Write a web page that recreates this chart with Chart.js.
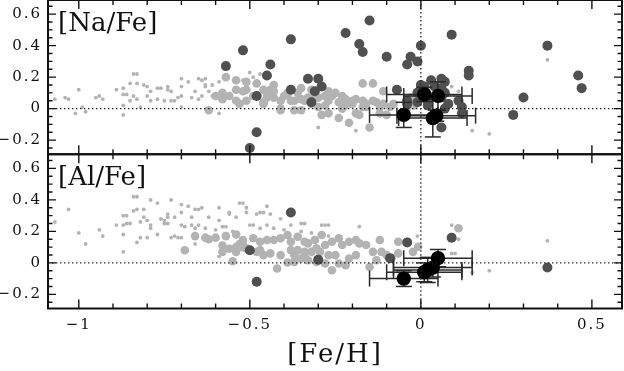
<!DOCTYPE html>
<html><head><meta charset="utf-8">
<script src="https://cdn.jsdelivr.net/npm/chart.js@4.4.1/dist/chart.umd.min.js"></script>
<style>html,body{margin:0;padding:0;background:#fff;}#wrap{width:624px;height:371px;position:relative;}</style>
</head><body><div id="wrap"><canvas id="c" width="624" height="371"></canvas></div>
<script>
const xTickValues = [-1, -0.5, 0, 0.5];
const yTickValues = [-0.2, 0, 0.2, 0.4, 0.6];
const panelLabels = ['[Na/Fe]', '[Al/Fe]'];
const xTitle = '[Fe/H]';

// ---- [Na/Fe] panel ----
const naSmallX = [-1.07,-1.04,-1.03,-1.00,-1.01,-0.99,-0.98,-0.95,-0.94,-0.93,-0.89,-0.87,-0.87,-0.86,-0.87,-0.87,-0.85,-0.84,-0.83,-0.83,-0.84,-0.83,-0.85,-0.82,-0.81,-0.80,-0.79,-0.80,-0.79,-0.77,-0.77,-0.76,-0.75,-0.74,-0.74,-0.73,-0.73,-0.72,-0.71,-0.70,-0.70,-0.70,-0.70,-0.68,-0.65,-0.67,-0.65,-0.64,-0.63,-0.63,-0.62,-0.66,-0.59,-0.59,-0.61,-0.63,-0.64,-0.61,-0.50,-0.49,-0.51,-0.47,-0.52,-0.30,-0.19,0.37,0.15,0.20,0.11,0.09,-0.53];
const naSmallY = [0.06,0.07,0.06,0.12,-0.03,0.01,-0.02,0.07,0.08,0.06,0.12,0.13,0.09,0.09,0.02,-0.04,0.16,0.22,0.22,0.16,0.08,0.06,0.05,0.01,0.15,0.14,0.11,0.08,0.05,0.06,0.13,0.13,0.05,0.12,0.14,0.11,0.05,0.05,0.07,0.19,0.14,0.08,0.01,0.17,0.19,0.07,0.06,0.08,0.19,0.15,0.11,0.11,-0.03,0.17,0.08,0.14,0.18,0.15,0.23,0.20,0.06,0.22,0.18,-0.12,-0.14,0.31,-0.14,-0.16,0.11,0.14,0.11];
const naMidX = [-0.62,-0.60,-0.58,-0.58,-0.57,-0.56,-0.54,-0.54,-0.54,-0.53,-0.52,-0.51,-0.51,-0.51,-0.48,-0.46,-0.46,-0.46,-0.45,-0.44,-0.43,-0.43,-0.43,-0.41,-0.41,-0.41,-0.39,-0.39,-0.38,-0.37,-0.37,-0.35,-0.35,-0.34,-0.35,-0.33,-0.32,-0.30,-0.30,-0.29,-0.28,-0.27,-0.27,-0.27,-0.25,-0.24,-0.24,-0.23,-0.23,-0.22,-0.21,-0.20,-0.20,-0.19,-0.19,-0.18,-0.17,-0.17,-0.17,-0.16,-0.16,-0.15,-0.14,-0.14,-0.13,-0.12,-0.12,-0.11,-0.11,-0.10,-0.08,-0.04,-0.03,-0.02,-0.04,-0.09,-0.26,-0.31,-0.36,-0.40,-0.45,-0.49,-0.32,-0.28,-0.22];
const naMidY = [-0.01,0.08,0.10,0.06,0.20,0.08,0.18,0.12,0.05,0.03,0.11,0.17,0.12,0.05,0.16,0.12,0.04,0.03,0.07,0.12,0.15,0.11,0.07,0.05,0.00,-0.01,0.09,0.10,0.05,0.05,-0.01,0.13,0.06,0.05,-0.01,0.07,0.03,0.07,0.01,-0.04,0.08,0.11,0.05,-0.03,0.10,0.04,-0.06,0.00,0.08,0.06,-0.09,0.03,0.05,-0.03,0.06,-0.04,0.16,0.05,0.01,0.01,0.03,-0.12,0.16,0.05,0.04,0.01,-0.03,0.11,0.03,-0.04,0.03,0.05,0.07,0.02,0.00,0.01,0.08,0.09,0.10,0.08,0.10,0.08,0.12,0.02,0.02];
const naDarkX = [-0.57,-0.52,-0.48,-0.48,-0.50,-0.45,-0.44,-0.38,-0.38,-0.33,-0.31,-0.32,-0.30,-0.29,-0.22,-0.15,-0.18,-0.17,-0.10,-0.03,-0.04,-0.01,0.00,0.09,0.37,0.14,0.14,0.46,0.47,0.30,0.27,-0.07,0.06,0.00,0.03,0.07,0.06,0.07,0.11,0.12,0.12,-0.01,0.01,0.02,0.07,-0.04,-0.04,-0.01,0.04,0.06,0.06,0.08,0.02];
const naDarkY = [0.27,0.37,0.08,-0.15,-0.25,0.21,0.28,0.44,0.12,0.19,0.11,0.04,0.19,0.14,0.48,0.56,0.41,0.36,0.33,0.33,0.28,0.30,0.40,0.47,0.40,0.24,0.21,0.21,0.13,0.07,-0.04,0.12,-0.12,0.15,0.18,0.17,0.13,0.10,0.05,0.01,-0.03,0.04,0.14,0.05,0.00,0.05,0.03,0.10,0.14,0.19,0.07,0.03,0.02];
const naBlackX = [0.01, 0.05, -0.05, 0.035, 0.045];
const naBlackY = [0.09, 0.08, -0.04, -0.06, -0.045];
const naBlackXErr = [0.11, 0.10, 0.10, 0.10, 0.115];
const naBlackYErr = [0.045, 0.09, 0.08, 0.12, 0.035];

// ---- [Al/Fe] panel ----
const alSmallX = [-1.07,-1.03,-1.00,-0.98,-0.94,-0.93,-0.89,-0.87,-0.86,-0.87,-0.86,-0.85,-0.87,-0.87,-0.84,-0.83,-0.84,-0.83,-0.82,-0.81,-0.81,-0.80,-0.79,-0.79,-0.82,-0.83,-0.80,-0.79,-0.77,-0.77,-0.76,-0.75,-0.74,-0.75,-0.74,-0.74,-0.73,-0.72,-0.73,-0.72,-0.71,-0.70,-0.70,-0.70,-0.70,-0.69,-0.68,-0.67,-0.67,-0.66,-0.66,-0.65,-0.64,-0.65,-0.62,-0.63,-0.66,-0.59,-0.59,-0.60,-0.58,-0.57,-0.56,-0.54,-0.53,-0.52,-0.59,-0.51,-0.51,-0.48,-0.47,-0.46,-0.45,-0.44,-0.50,-0.49,-0.47,-0.45,-0.43,-0.41,-0.40,-0.38,-0.35,-0.34,-0.35,-0.32,-0.29,-0.28,-0.27,-0.29,-0.27,-0.18,-0.01,0.09,0.11,0.09,0.10,0.15,0.20,0.37,-0.55,-0.56];
const alSmallY = [0.26,0.34,0.19,0.12,0.21,0.17,0.24,0.30,0.30,0.24,0.25,0.25,0.18,0.07,0.42,0.42,0.33,0.34,0.26,0.34,0.29,0.27,0.24,0.22,0.16,0.13,0.16,0.40,0.38,0.18,0.28,0.27,0.29,0.25,0.25,0.31,0.40,0.29,0.16,0.17,0.16,0.16,0.24,0.32,0.37,0.23,0.36,0.24,0.29,0.34,0.22,0.34,0.35,0.24,0.29,0.22,0.12,0.35,0.27,0.21,0.23,0.23,0.31,0.29,0.38,0.38,0.04,0.35,0.32,0.31,0.32,0.32,0.36,0.31,0.24,0.24,0.22,0.24,0.22,0.28,0.21,0.24,0.25,0.25,0.20,0.19,0.24,0.24,0.24,0.17,0.17,0.23,0.17,0.24,0.15,0.06,0.06,-0.06,-0.05,0.14,0.20,0.32];
const alMidX = [-0.69,-0.66,-0.63,-0.62,-0.60,-0.58,-0.58,-0.57,-0.56,-0.55,-0.54,-0.54,-0.54,-0.53,-0.52,-0.52,-0.49,-0.47,-0.45,-0.43,-0.41,-0.39,-0.38,-0.36,-0.34,-0.33,-0.31,-0.29,-0.28,-0.26,-0.24,-0.23,-0.21,-0.19,-0.18,-0.16,-0.14,-0.12,-0.115,-0.10,-0.086,-0.066,-0.066,-0.023,-0.008,-0.13,-0.15,-0.19,-0.21,-0.22,-0.24,-0.26,-0.28,-0.305,-0.33,-0.35,-0.37,-0.39,-0.41,-0.44,-0.42,-0.46,-0.48,-0.51,-0.52,-0.47,-0.38,-0.36,-0.34,-0.32,-0.295,-0.27,-0.25,-0.34,-0.37,-0.305,0.11];
const alMidY = [0.08,0.17,0.16,0.15,0.16,0.11,0.07,0.17,0.09,0.01,0.18,0.10,0.07,0.12,0.10,0.145,0.156,0.134,0.145,0.145,0.156,0.177,0.134,0.166,0.134,0.124,0.145,0.177,0.113,0.134,0.156,0.113,0.134,0.145,0.124,0.113,0.070,0.145,0.070,0.049,0.028,0.060,0.134,0.070,0.102,0.017,-0.026,0.049,0.028,-0.015,-0.004,-0.047,-0.004,0.006,0.017,0.028,0.006,0.002,0.049,0.060,-0.036,0.049,0.070,0.092,0.113,0.081,0.081,0.081,0.070,0.070,0.070,0.049,0.049,0.038,0.049,0.092,0.22];
const alDarkX = [-0.50,-0.48,-0.38,-0.30,-0.09,-0.04,0.09,0.37];
const alDarkY = [0.08,-0.12,0.32,0.02,0.03,0.13,0.16,-0.03];
const alBlackX = [0.05, 0.035, 0.02, 0.01, -0.05];
const alBlackY = [0.03, -0.03, -0.045, -0.06, -0.10];
const alBlackXErr = [0.10, 0.115, 0.10, 0.11, 0.10];
const alBlackYErr = [0.055, 0.06, 0.08, 0.06, 0.05];

const FONT = "'DejaVu Serif', serif";
const LIGHT = '#b3b3b3', DARK = '#505050', BLACK = '#000000';

const pts = (xs, ys) => xs.map((x, i) => ({x: x, y: ys[i]}));
function ds(label, xs, ys, axis, color, r, order, extra) {
  return Object.assign({label, data: pts(xs, ys), yAxisID: axis, backgroundColor: color,
    borderWidth: 0, pointRadius: r, pointHoverRadius: r, pointStyle: 'circle', order}, extra || {});
}
const fmt = v => v === 0 ? '0' : (v < 0 ? '\u2212' + String(Math.abs(v)) : String(v));

const framePlugin = {
  id: 'frame',
  beforeDraw(chart) { chart.ctx.letterSpacing = '2px'; },
  beforeDatasetDraw(chart, args) {
    const d = chart.data.datasets[args.index];
    if (!d.xErr) return;
    const ctx = chart.ctx, xs = chart.scales.x, ys = chart.scales[d.yAxisID];
    ctx.save(); ctx.strokeStyle = '#2a2a2a'; ctx.lineWidth = 1.5;
    const cap = 8;
    const seg = (a, b, c, e) => { ctx.beginPath(); ctx.moveTo(a, b); ctx.lineTo(c, e); ctx.stroke(); };
    d.data.forEach((p, i) => {
      const cx = xs.getPixelForValue(p.x), cy = ys.getPixelForValue(p.y);
      const x0 = xs.getPixelForValue(p.x - d.xErr[i]), x1 = xs.getPixelForValue(p.x + d.xErr[i]);
      const y0 = ys.getPixelForValue(p.y - d.yErr[i]), y1 = ys.getPixelForValue(p.y + d.yErr[i]);
      seg(x0, cy, x1, cy); seg(x0, cy - cap, x0, cy + cap); seg(x1, cy - cap, x1, cy + cap);
      seg(cx, y0, cx, y1); seg(cx - cap, y0, cx + cap, y0); seg(cx - cap, y1, cx + cap, y1);
    });
    ctx.restore();
  },
  afterDatasetsDraw(chart) {
    const ctx = chart.ctx, xs = chart.scales.x, L = chart.chartArea.left, R = chart.chartArea.right;
    ['yNa', 'yAl'].forEach((id, k) => {
      const ys = chart.scales[id], T = ys.top, B = ys.bottom;
      ctx.save();
      ctx.strokeStyle = '#222'; ctx.lineWidth = 1.3; ctx.setLineDash([1.4, 2.6]);
      const y0 = ys.getPixelForValue(0), x0 = xs.getPixelForValue(0);
      ctx.beginPath(); ctx.moveTo(L, y0); ctx.lineTo(R, y0); ctx.stroke();
      ctx.beginPath(); ctx.moveTo(x0, T); ctx.lineTo(x0, B); ctx.stroke();
      ctx.setLineDash([]);
      ctx.strokeStyle = '#111'; ctx.lineWidth = 1.4;
      for (let i = -10; i <= 5; i++) {
        const v = i / 10, px = xs.getPixelForValue(v);
        const len = (i % 5 === 0) ? 9 : 5;
        ctx.beginPath(); ctx.moveTo(px, B); ctx.lineTo(px, B - len); ctx.moveTo(px, T); ctx.lineTo(px, T + len); ctx.stroke();
      }
      for (let i = -5; i <= 13; i++) {
        const v = i / 20, py = ys.getPixelForValue(v);
        const len = (i % 4 === 0) ? 8 : 4.5;
        ctx.beginPath(); ctx.moveTo(L, py); ctx.lineTo(L + len, py); ctx.moveTo(R, py); ctx.lineTo(R - len, py); ctx.stroke();
      }
      ctx.lineWidth = 2; ctx.strokeStyle = '#111';
      ctx.strokeRect(L, T, R - L, B - T);
      ctx.letterSpacing = '0px';
      ctx.fillStyle = '#111'; ctx.font = "26px " + FONT; ctx.textAlign = 'left'; ctx.textBaseline = 'alphabetic';
      ctx.fillText(panelLabels[k], L + 10, T + 31);
      ctx.restore();
    });
  }
};

const yScale = () => ({
  type: 'linear', position: 'left', stack: 'panels', stackWeight: 1,
  min: -0.29, max: 0.69,
  grid: {display: false, drawTicks: false}, border: {display: false},
  afterBuildTicks: s => { s.ticks = yTickValues.map(v => ({value: v})); },
  afterFit: s => { s.width = 48; s.paddingTop = 0; s.paddingBottom = 0; },
  ticks: {autoSkip: false, padding: 6, color: '#111', font: {family: FONT, size: 15}, callback: v => fmt(v)}
});

new Chart(document.getElementById('c'), {
  type: 'scatter',
  data: {
    datasets: [
      ds('Na black', naBlackX, naBlackY, 'yNa', BLACK, 7.2, 0, {xErr: naBlackXErr, yErr: naBlackYErr}),
      ds('Al black', alBlackX, alBlackY, 'yAl', BLACK, 7.2, 0, {xErr: alBlackXErr, yErr: alBlackYErr}),
      ds('Na dark', naDarkX, naDarkY, 'yNa', DARK, 5, 1),
      ds('Al dark', alDarkX, alDarkY, 'yAl', DARK, 5, 1),
      ds('Na mid', naMidX, naMidY, 'yNa', LIGHT, 4.3, 2),
      ds('Al mid', alMidX, alMidY, 'yAl', LIGHT, 4.3, 2),
      ds('Na small', naSmallX, naSmallY, 'yNa', LIGHT, 1.9, 3),
      ds('Al small', alSmallX, alSmallY, 'yAl', LIGHT, 1.9, 3)
    ]
  },
  options: {
    responsive: false, animation: false, devicePixelRatio: 1, events: [],
    layout: {autoPadding: false, padding: {top: 0, right: 2, left: 0, bottom: 0}},
    plugins: {legend: {display: false}, tooltip: {enabled: false}},
    scales: {
      x: {
        type: 'linear', position: 'bottom', min: -1.09, max: 0.588,
        grid: {display: false, drawTicks: false}, border: {display: false},
        afterBuildTicks: s => { s.ticks = xTickValues.map(v => ({value: v})); },
        afterFit: s => { s.height = 62.5; s.paddingLeft = 0; s.paddingRight = 0; },
        ticks: {autoSkip: false, maxRotation: 0, padding: 8, color: '#111', font: {family: FONT, size: 15}, callback: v => fmt(v)},
        title: {display: true, text: xTitle, color: '#111', font: {family: FONT, size: 26}, padding: {top: 0, bottom: 0}}
      },
      yAl: yScale(),
      yNa: yScale()
    }
  },
  plugins: [framePlugin]
});
</script></body></html>
